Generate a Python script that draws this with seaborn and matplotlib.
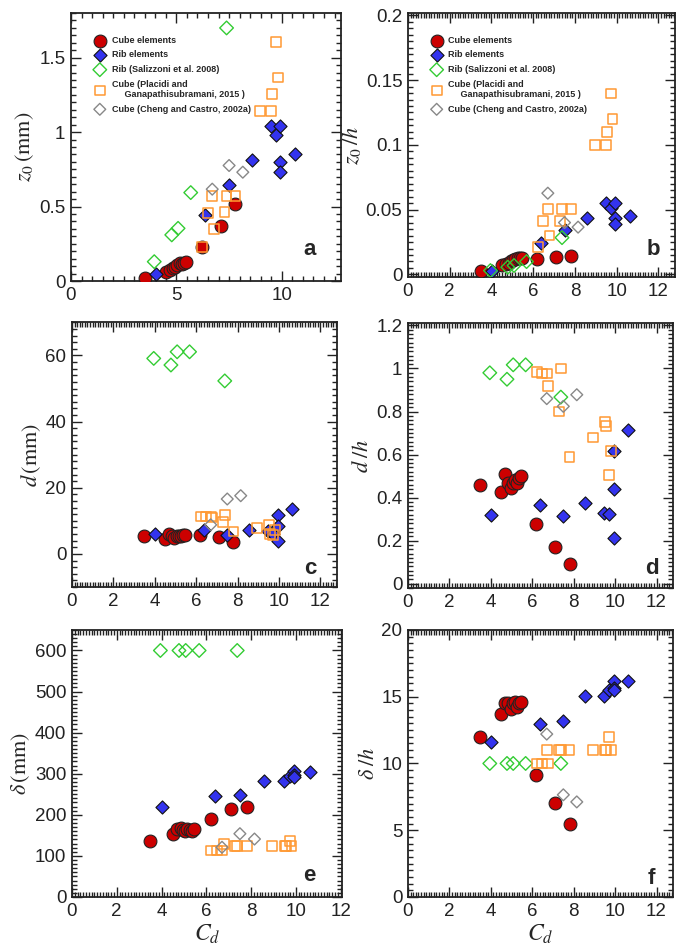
import seaborn as sns
import matplotlib.pyplot as plt
from matplotlib.ticker import MultipleLocator, StrMethodFormatter

# ---- data ----
# Cube elements (present study)
cube_cd = [3.5, 4.5, 4.7, 4.85, 4.95, 5.05, 5.15, 5.25, 5.35, 5.45, 6.2, 7.1, 7.8]
cube_z0 = [0.018, 0.063, 0.074, 0.085, 0.096, 0.108, 0.12, 0.115, 0.123, 0.13, 0.23, 0.37, 0.52]
cube_z0h = [0.0025, 0.007, 0.008, 0.009, 0.0105, 0.011, 0.012, 0.0125, 0.0127, 0.013, 0.012, 0.0137, 0.014]
cube_d = [5.3, 4.5, 6.0, 5.3, 4.7, 5.3, 5.5, 5.3, 5.6, 5.6, 5.6, 5.0, 3.6]
cube_dh = [0.458, 0.427, 0.511, 0.47, 0.443, 0.47, 0.48, 0.47, 0.49, 0.498, 0.275, 0.17, 0.093]
cube_delta = [136, 154, 166, 168, 163, 160, 166, 162, 160, 166, 190, 214, 220]
cube_deltah = [12.0, 13.7, 14.5, 14.5, 14.1, 14.5, 14.6, 14.2, 14.5, 14.6, 9.1, 7.05, 5.5]

# Rib elements (present study)
rib_cd = [4.02, 6.38, 7.5, 8.57, 9.47, 9.72, 9.93, 9.93, 9.93, 10.62]
rib_z0 = [0.047, 0.444, 0.646, 0.814, 1.04, 0.982, 1.04, 0.80, 0.735, 0.852]
rib_z0h = [0.003, 0.024, 0.034, 0.0437, 0.055, 0.051, 0.055, 0.0437, 0.039, 0.045]
rib_d = [6.1, 7.1, 5.6, 7.3, 6.8, 6.1, 11.8, 8.3, 4.0, 13.6]
rib_dh = [0.318, 0.366, 0.315, 0.374, 0.33, 0.325, 0.615, 0.44, 0.21, 0.713]
rib_delta = [218, 245, 249, 283, 283, 295, 307, 297, 291, 303]
rib_deltah = [11.6, 12.95, 13.2, 15.08, 15.08, 15.5, 16.2, 15.66, 15.5, 16.2]

# Rib (Salizzoni et al. 2008)
sal_cd = [3.95, 4.78, 5.08, 5.68, 7.38]
sal_z0 = [0.13, 0.31, 0.354, 0.594, 1.70]
sal_z0h = [0.003, 0.0056, 0.0069, 0.0099, 0.0284]
sal_d = [59.1, 57.1, 61.1, 61.1, 52.3]
sal_dh = [0.98, 0.95, 1.017, 1.017, 0.867]
sal_delta = [600, 600, 600, 600, 600]
sal_deltah = [10, 10, 10, 10, 10]

# Cube (Placidi and Ganapathisubramani, 2015)
pla_cd = [6.22, 6.48, 6.7, 6.78, 7.28, 7.38, 7.8, 8.95, 9.5, 9.55, 9.72, 9.8]
pla_z0 = [0.23, 0.455, 0.572, 0.348, 0.462, 0.572, 0.572, 1.143, 1.143, 1.256, 1.603, 1.367]
pla_z0h = [0.021, 0.041, 0.0505, 0.030, 0.041, 0.0505, 0.0505, 0.100, 0.100, 0.110, 0.1396, 0.1198]
pla_d = [11.3, 11.3, 11.3, 11.0, 9.6, 11.8, 6.8, 7.8, 8.8, 6.1, 5.6, 7.3]
pla_dh = [0.985, 0.977, 0.977, 0.918, 0.80, 1.0, 0.589, 0.679, 0.753, 0.733, 0.505, 0.615]
pla_delta = [113, 113, 113, 128, 125, 125, 125, 125, 125, 125, 137, 125]
pla_deltah = [10, 10, 11, 10, 11, 11, 11, 11, 11, 11, 12, 11]

# Cube (Cheng and Castro, 2002a)
che_cd = [6.7, 7.5, 8.15]
che_z0 = [0.617, 0.776, 0.731]
che_z0h = [0.0627, 0.040, 0.0365]
che_d = [8.8, 16.6, 17.6]
che_dh = [0.86, 0.824, 0.878]
che_delta = [121, 154, 141]
che_deltah = [12.2, 7.65, 7.12]

labels = ['Cube elements', 'Rib elements', 'Rib (Salizzoni et al. 2008)',
          'Cube (Placidi and\n     Ganapathisubramani, 2015 )',
          'Cube (Cheng and Castro, 2002a)']

sns.set_style('ticks')
plt.rcParams['font.family'] = ['Liberation Sans', 'DejaVu Sans']
plt.rcParams['mathtext.fontset'] = 'stix'


def draw_panel(ax, ys, ylab, letter, xlim, ylim, xmaj, xmin, ymaj, ymin,
               letter_pos, legend=False, xlabel=False):
    y_cube, y_rib, y_sal, y_pla, y_che = ys
    sns.scatterplot(x=cube_cd, y=y_cube, ax=ax, marker='o', s=85, color='#cc0000',
                    edgecolor='#222222', linewidth=0.8, label=labels[0], zorder=3)
    sns.scatterplot(x=rib_cd, y=y_rib, ax=ax, marker='D', s=45, color='#3333ee',
                    edgecolor='#111111', linewidth=0.8, label=labels[1], zorder=3)
    sns.scatterplot(x=sal_cd, y=y_sal, ax=ax, marker='D', s=48, facecolor='none',
                    edgecolor='#33cc33', linewidth=1.0, label=labels[2], zorder=3)
    sns.scatterplot(x=pla_cd, y=y_pla, ax=ax, marker='s', s=50, facecolor='none',
                    edgecolor='#ff9933', linewidth=1.1, label=labels[3], zorder=3)
    sns.scatterplot(x=che_cd, y=y_che, ax=ax, marker='D', s=36, facecolor='none',
                    edgecolor='#888888', linewidth=1.0, label=labels[4], zorder=3)

    ax.set_xlim(*xlim)
    ax.set_ylim(*ylim)
    ax.xaxis.set_major_locator(MultipleLocator(xmaj))
    ax.xaxis.set_minor_locator(MultipleLocator(xmin))
    ax.yaxis.set_major_locator(MultipleLocator(ymaj))
    ax.yaxis.set_minor_locator(MultipleLocator(ymin))
    ax.xaxis.set_major_formatter(StrMethodFormatter('{x:g}'))
    ax.yaxis.set_major_formatter(StrMethodFormatter('{x:g}'))
    ax.tick_params(which='both', direction='in', top=True, right=True,
                   labelsize=13.5, width=1.0, colors='#222222')
    ax.tick_params(which='major', length=7, pad=4)
    ax.tick_params(which='minor', length=3.5)
    for sp in ax.spines.values():
        sp.set_linewidth(1.3)
        sp.set_color('#222222')

    ax.set_ylabel(ylab, fontsize=16, labelpad=2)
    if xlabel:
        ax.set_xlabel(r'$C_d$', fontsize=17, labelpad=2)
    ax.text(letter_pos[0], letter_pos[1], letter, transform=ax.transAxes,
            fontsize=16, fontweight='bold', ha='center', va='center')

    if legend:
        ax.legend(loc='upper left', bbox_to_anchor=(0.06, 0.935), frameon=False,
                  prop={'size': 6.5, 'weight': 'bold'}, handletextpad=0.5,
                  labelspacing=0.62, handlelength=1.6, borderaxespad=0.2)
    else:
        ax.get_legend().remove()


fig = plt.figure(figsize=(6.85, 9.52), dpi=100)
ax_a = fig.add_axes([0.1036, 0.7048, 0.394, 0.2815])
ax_b = fig.add_axes([0.5956, 0.709, 0.39, 0.277])
ax_c = fig.add_axes([0.105, 0.3834, 0.387, 0.278])
ax_d = fig.add_axes([0.5956, 0.3824, 0.387, 0.278])
ax_e = fig.add_axes([0.105, 0.0578, 0.394, 0.2805])
ax_f = fig.add_axes([0.5956, 0.0578, 0.387, 0.2805])

draw_panel(ax_a, (cube_z0, rib_z0, sal_z0, pla_z0, che_z0),
           r'$z_{\mathit{0}}\,(\mathrm{mm})$', 'a', (0, 12.8), (0, 1.8),
           5, 0.5, 0.5, 0.05, (0.885, 0.116), legend=True)
draw_panel(ax_b, (cube_z0h, rib_z0h, sal_z0h, pla_z0h, che_z0h),
           r'$z_{\mathit{0}}\,/h$', 'b', (0, 12.8), (-0.002, 0.2015),
           2, 0.125, 0.05, 0.005, (0.92, 0.106), legend=True)
draw_panel(ax_c, (cube_d, rib_d, sal_d, pla_d, che_d),
           r'$d\,(\mathrm{mm})$', 'c', (0, 12.8), (-10, 70),
           2, 0.125, 20, 2, (0.90, 0.07))
draw_panel(ax_d, (cube_dh, rib_dh, sal_dh, pla_dh, che_dh),
           r'$d\;/h$', 'd', (0, 12.8), (-0.02, 1.21),
           2, 0.125, 0.2, 0.02, (0.92, 0.075))
draw_panel(ax_e, (cube_delta, rib_delta, sal_delta, pla_delta, che_delta),
           r'$\delta\,(\mathrm{mm})$', 'e', (0, 12.05), (0, 650),
           2, 0.125, 100, 10, (0.88, 0.08), xlabel=True)
draw_panel(ax_f, (cube_deltah, rib_deltah, sal_deltah, pla_deltah, che_deltah),
           r'$\delta\;/h$', 'f', (0, 12.8), (0, 20),
           2, 0.125, 5, 0.5, (0.92, 0.07), xlabel=True)

fig.savefig('out.png', dpi=100)
